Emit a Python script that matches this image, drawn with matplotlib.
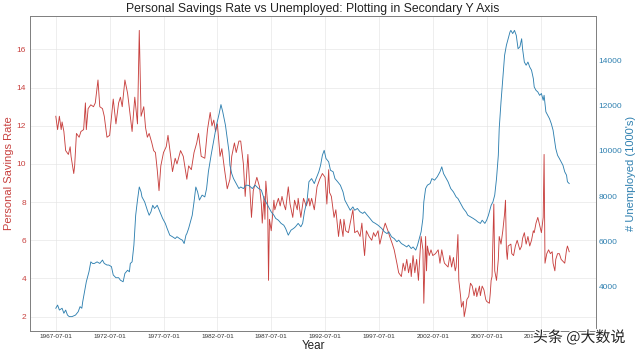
import numpy as np
import pandas as pd
import matplotlib
matplotlib.use("Agg")
import matplotlib.pyplot as plt
import matplotlib.patheffects as pe

# ---- data (month offset from 1967-07, value) ----
sav_month = [0, 2, 4, 6, 7, 9, 11, 14, 16, 17, 20, 21, 23, 26, 28, 31, 33, 34, 36, 39,
             42, 44, 47, 49, 52, 54, 57, 60, 64, 67, 70, 72, 74, 77, 80, 83, 85, 88, 91, 93,
             95, 98, 100, 102, 104, 107, 109, 111, 113, 115, 117, 120, 123, 125, 128, 130, 133, 135, 139, 142,
             146, 148, 151, 154, 157, 159, 162, 166, 169, 172, 174, 176, 178, 180, 183, 185, 188, 191, 194, 196,
             199, 201, 204, 206, 209, 211, 214, 218, 220, 224, 227, 229, 230, 232, 233, 234, 236, 237, 238, 240,
             243, 244, 246, 248, 250, 252, 254, 256, 259, 261, 264, 266, 269, 270, 273, 276, 279, 282, 283, 285,
             288, 291, 294, 297, 300, 302, 304, 305, 307, 310, 312, 315, 317, 320, 321, 323, 326, 328, 331, 333,
             336, 339, 341, 343, 344, 346, 349, 352, 354, 356, 359, 361, 364, 367, 370, 372, 375, 377, 380, 382,
             385, 387, 389, 391, 393, 395, 396, 398, 400, 402, 404, 406, 407, 409, 410, 412, 413, 414, 416, 418,
             420, 423, 426, 428, 430, 432, 433, 435, 437, 439, 441, 443, 445, 446, 448, 449, 451, 452, 454, 455,
             457, 458, 460, 462, 464, 466, 468, 469, 472, 473, 475, 477, 479, 480, 483, 484, 485, 486, 488, 489,
             491, 493, 494, 496, 498, 500, 501, 502, 503, 504, 507, 508, 510, 512, 514, 517, 519, 520, 522, 524,
             526, 528, 530, 532, 533, 535, 537, 539, 541, 543, 544, 545, 547, 549, 551, 553, 554, 556, 557, 559,
             561, 563, 565, 567, 569, 570, 572]
sav_rate = [12.5, 11.8, 12.5, 11.8, 12.2, 11.7, 10.7, 10.5, 10.9, 10.4, 9.5, 9.9, 11.6, 11.4, 11.7, 11.8, 13.2, 11.8, 12.9, 13.1,
            13.0, 13.2, 14.4, 13.0, 12.9, 12.5, 11.4, 11.5, 13.4, 12.1, 13.2, 13.5, 13.0, 14.4, 13.7, 12.5, 11.7, 13.5, 12.1, 17.0,
            12.5, 13.0, 11.9, 11.4, 11.6, 11.1, 10.7, 10.6, 9.7, 8.6, 9.9, 10.6, 10.9, 11.5, 10.4, 9.6, 10.3, 10.0, 10.7, 10.4,
            9.2, 9.9, 9.7, 10.6, 11.1, 11.6, 10.4, 10.3, 11.8, 12.7, 12.0, 12.3, 11.7, 12.1, 10.4, 10.8, 9.7, 8.7, 9.2, 10.4,
            11.1, 10.6, 11.2, 11.2, 10.0, 8.3, 10.5, 7.2, 8.6, 9.3, 8.8, 7.9, 6.9, 8.3, 7.1, 9.1, 7.9, 3.9, 7.1, 6.5,
            8.1, 7.6, 7.9, 8.2, 7.8, 8.3, 7.9, 7.6, 8.8, 7.9, 7.2, 8.1, 7.6, 8.2, 7.2, 8.2, 7.8, 8.2, 7.8, 8.2,
            7.6, 8.8, 9.2, 9.5, 9.3, 7.9, 9.7, 8.5, 8.3, 7.2, 7.6, 6.2, 7.1, 6.2, 7.1, 6.5, 6.4, 6.9, 7.6, 6.4,
            6.5, 6.2, 6.9, 5.7, 5.2, 6.5, 6.2, 6.0, 6.4, 6.2, 6.5, 5.8, 6.4, 6.9, 6.5, 6.2, 5.8, 5.5, 4.8, 4.3,
            4.1, 4.8, 4.4, 5.0, 4.3, 4.8, 4.1, 5.2, 4.3, 5.0, 3.9, 5.5, 6.2, 5.5, 2.7, 6.2, 4.4, 5.7, 5.2, 5.5,
            5.2, 5.3, 5.5, 4.8, 5.5, 5.0, 4.8, 4.7, 4.6, 5.2, 4.6, 5.1, 4.4, 4.6, 6.3, 3.9, 3.05, 2.5, 2.8, 2.0,
            2.5, 2.9, 3.05, 3.75, 3.6, 3.1, 3.5, 3.05, 3.6, 3.1, 3.6, 3.4, 2.9, 2.8, 2.7, 3.2, 3.9, 4.1, 7.9, 4.4,
            3.9, 5.0, 6.2, 5.8, 6.5, 7.4, 8.1, 5.5, 5.0, 5.7, 5.8, 5.3, 5.2, 5.7, 6.0, 5.5, 5.7, 6.1, 6.4, 5.8,
            6.2, 5.7, 6.0, 6.5, 6.4, 6.9, 7.2, 6.8, 6.4, 7.2, 10.5, 4.8, 5.3, 5.5, 5.3, 5.4, 4.8, 4.4, 5.0, 5.3,
            5.3, 5.0, 4.9, 4.8, 5.5, 5.7, 5.4]

unemp_month = [0, 2, 4, 7, 9, 11, 13, 15, 18, 22, 25, 27, 29, 30, 32, 34, 37, 39, 41, 43,
               46, 49, 52, 54, 57, 59, 62, 64, 67, 70, 72, 75, 77, 80, 82, 83, 85, 87, 89, 91,
               93, 95, 96, 99, 102, 104, 106, 108, 110, 113, 116, 119, 122, 124, 127, 130, 133, 135, 139, 141,
               143, 145, 146, 148, 150, 152, 154, 156, 158, 160, 163, 166, 168, 170, 173, 176, 179, 182, 184, 186,
               189, 191, 193, 194, 196, 198, 201, 204, 206, 209, 212, 215, 219, 222, 226, 229, 232, 234, 237, 240,
               243, 245, 248, 251, 254, 256, 259, 262, 265, 267, 270, 273, 275, 277, 280, 282, 285, 288, 290, 293,
               295, 297, 299, 301, 304, 306, 309, 311, 314, 317, 320, 322, 325, 328, 331, 333, 336, 339, 342, 344,
               347, 350, 353, 356, 359, 363, 366, 369, 371, 374, 377, 380, 382, 385, 388, 391, 393, 396, 398, 401,
               403, 405, 407, 409, 410, 412, 414, 417, 419, 422, 425, 428, 430, 432, 435, 437, 440, 443, 446, 448,
               451, 454, 457, 459, 462, 465, 468, 470, 473, 475, 478, 480, 482, 483, 485, 487, 489, 491, 493, 494,
               496, 498, 500, 502, 504, 506, 507, 509, 511, 513, 515, 517, 519, 520, 522, 524, 526, 528, 530, 532,
               533, 535, 537, 539, 541, 543, 544, 546, 548, 550, 552, 554, 556, 557, 559, 561, 563, 565, 567, 569,
               570, 572]
unemp_count = [3050, 3190, 2970, 3050, 2830, 2970, 2750, 2680, 2680, 2750, 2900, 3120, 3050, 3340, 3780, 4220, 4670, 5100, 5030, 5030,
               5100, 5030, 5180, 5030, 4960, 4960, 4890, 4520, 4400, 4400, 4290, 4220, 4590, 4730, 4660, 5030, 5100, 5840, 7160, 7830,
               8410, 8190, 7970, 7750, 7380, 7160, 7310, 7600, 7460, 7600, 7310, 7020, 6800, 6580, 6280, 6210, 6130, 6210, 6100, 6060,
               5910, 6280, 6350, 6580, 6870, 7160, 7750, 8410, 8190, 7830, 8050, 7970, 8340, 9080, 9810, 10480, 11140, 11650, 12050, 11730,
               11140, 10550, 9960, 9370, 9000, 8780, 8560, 8340, 8410, 8340, 8490, 8480, 8340, 8490, 8340, 8270, 7900, 7750, 7530, 7310,
               7160, 7020, 6940, 6800, 6720, 6580, 6280, 6500, 6580, 6650, 6800, 6650, 6800, 7310, 7830, 8640, 8780, 8560, 8780, 9080,
               9370, 9810, 10030, 9670, 9520, 9150, 9080, 8780, 8640, 8490, 8190, 7830, 7600, 7380, 7530, 7380, 7460, 7310, 7240, 7310,
               7160, 7020, 6870, 6800, 6720, 6580, 6430, 6350, 6430, 6210, 6130, 5990, 6060, 5910, 5840, 5760, 5840, 5690, 5760, 5620,
               5840, 6130, 6430, 7020, 7750, 8340, 8490, 8560, 8780, 8710, 8860, 9080, 9300, 9000, 8780, 8640, 8340, 8190, 7970, 7900,
               7680, 7460, 7310, 7160, 7090, 7020, 6940, 6870, 6800, 6940, 6800, 6940, 7160, 7310, 7600, 7750, 8050, 8780, 9810, 10990,
               12170, 13200, 14230, 14670, 14960, 15260, 15330, 15190, 15330, 15110, 14520, 14600, 14960, 14520, 13930, 13790, 13930, 13710, 13570, 13200,
               12830, 12680, 12610, 12460, 12540, 12240, 12460, 11730, 11580, 11430, 11210, 10920, 10400, 10110, 9810, 9670, 9520, 9370, 9080, 8930,
               8640, 8560]

n_months = 574
tick_step = 60
tick_labels = [d.strftime("%Y-%m-%d") for d in
               pd.date_range("1967-07-01", periods=n_months, freq="MS")[::tick_step]]

RED = "#c8413f"
BLUE = "#2f80b0"
FONT = ["Liberation Sans", "DejaVu Sans"]
plt.rcParams["font.family"] = FONT

fig = plt.figure(figsize=(16, 8.925), dpi=40)
ax1 = fig.add_axes([0.047, 0.073, 0.884, 0.882])
ax1.plot(sav_month, sav_rate, color=RED, lw=1.6)
ax2 = ax1.twinx()
ax2.plot(unemp_month, unemp_count, color=BLUE, lw=1.6)

ax1.set_xlim(-0.05 * (n_months - 1), (n_months - 1) * 1.05)
ax1.set_xticks(np.arange(0, n_months, tick_step))
ax1.set_xticklabels(tick_labels, fontsize=11.5, color="#333333")

ax1.grid(True, color="#e2e2e2", lw=1.0)
ax2.grid(False)
ax1.set_facecolor("white")
for ax in (ax1, ax2):
    for s in ax.spines.values():
        s.set_color("#808080")
        s.set_linewidth(1.6)
    ax.tick_params(length=0)

ax1.tick_params(axis="y", labelcolor=RED, labelsize=15, pad=7)
ax1.tick_params(axis="x", pad=6)
ax2.tick_params(axis="y", labelcolor=BLUE, labelsize=15, pad=5)

ax1.set_xlabel("Year", fontsize=21, color="#222222", labelpad=1)
ax1.set_ylabel("Personal Savings Rate", color=RED, fontsize=20, labelpad=4)
ax2.set_ylabel("# Unemployed (1000's)", color=BLUE, fontsize=20, labelpad=6)
ax1.set_title("Personal Savings Rate vs Unemployed: Plotting in Secondary Y Axis",
              fontsize=22, color="#222222", pad=7)

fig.text(0.905, 0.055, "头条 @大数说", fontsize=27, color="#222222",
         family=["Noto Sans CJK SC", "DejaVu Sans"], ha="center", va="center",
         path_effects=[pe.withStroke(linewidth=4, foreground="white")])

fig.savefig("out.png", dpi=40, facecolor="white")
